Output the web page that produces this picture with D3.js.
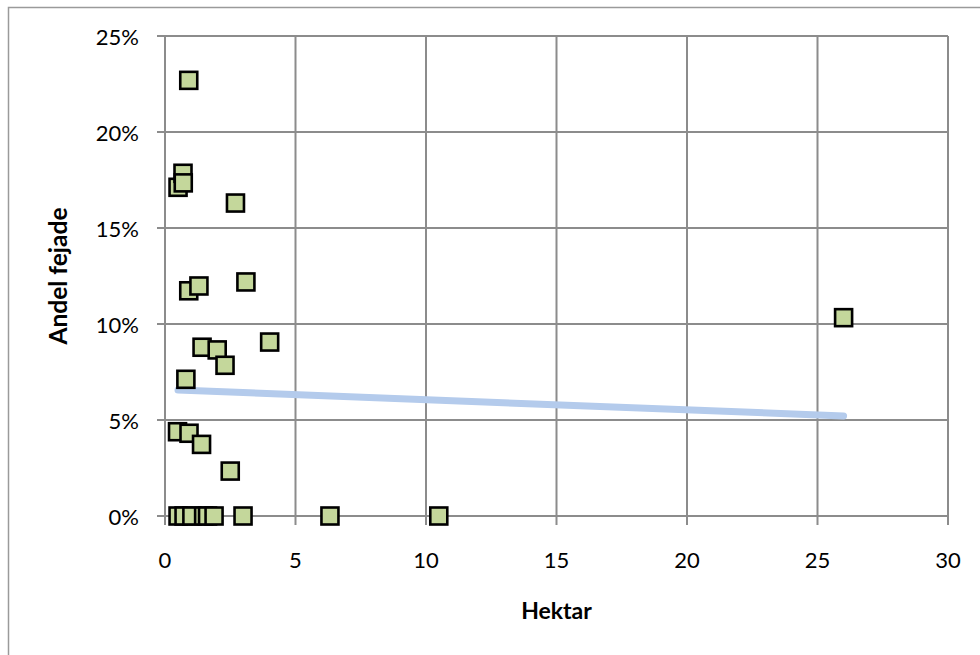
<!DOCTYPE html>
<html><head><meta charset="utf-8">
<script src="https://cdn.jsdelivr.net/npm/d3@7"></script>
<style>body{margin:0;background:#fff}svg{display:block}text{font-family:Lato,"Open Sans",sans-serif;fill:#000}</style>
</head><body><svg id="c" width="980" height="655"></svg>
<script>
const hektar = [0.50,0.69,0.70,0.91,2.70,0.91,1.30,3.10,1.42,2.00,2.30,4.01,0.80,0.48,0.92,1.40,2.50,26.0,
                0.50,0.73,1.03,1.48,1.63,1.88,2.99,6.32,10.49];
const andel  = [0.1712,0.1785,0.1735,0.2269,0.1630,0.1173,0.1198,0.1219,0.0879,0.0865,0.0785,0.0906,0.0712,0.0439,0.0431,0.0373,0.0234,0.1033,
                0,0,0,0,0,0,0,0,0];
const trendX = [0.5, 26.0];
const trendY = [0.0656, 0.0521];
const xTicks = [0,5,10,15,20,25,30];
const yTicks = [0,0.05,0.10,0.15,0.20,0.25];
const yTickLabels = ["0%","5%","10%","15%","20%","25%"];
const xTitle = "Hektar", yTitle = "Andel fejade";

const svg = d3.select("#c");
const L=165,R=948,T=36,B=516;
const x = d3.scaleLinear().domain([0,30]).range([L,R]);
const y = d3.scaleLinear().domain([0,0.25]).range([B,T]);

svg.append("rect").attr("x",8.5).attr("y",7.5).attr("width",1200).attr("height",1200)
  .attr("fill","#fff").attr("stroke","#9a9a9a").attr("stroke-width",1.5);

const grid="#8c8c8c";
svg.append("g").selectAll("line").data(yTicks).join("line")
  .attr("x1",L-8).attr("x2",R).attr("y1",d=>y(d)).attr("y2",d=>y(d))
  .attr("stroke",grid).attr("stroke-width",2);
svg.append("g").selectAll("line").data(xTicks).join("line")
  .attr("x1",d=>x(d)).attr("x2",d=>x(d)).attr("y1",T).attr("y2",B+9)
  .attr("stroke",grid).attr("stroke-width",2);

svg.append("g").selectAll("text").data(yTicks).join("text")
  .attr("x",139).attr("y",d=>y(d)+8.5).attr("text-anchor","end")
  .attr("font-size",22).text((d,i)=>yTickLabels[i]);
svg.append("g").selectAll("text").data(xTicks).join("text")
  .attr("x",d=>x(d)).attr("y",567.5).attr("text-anchor","middle")
  .attr("font-size",22).text(d=>d);

svg.append("text").attr("x",(L+R)/2).attr("y",619).attr("text-anchor","middle")
  .attr("font-size",23).attr("font-weight","bold").text(xTitle);
svg.append("text").attr("transform",`translate(67,${(T+B)/2}) rotate(-90)`)
  .attr("text-anchor","middle").attr("font-size",24.5).attr("font-weight","bold").text(yTitle);

svg.append("line").attr("x1",x(trendX[0])).attr("y1",y(trendY[0]))
  .attr("x2",x(trendX[1])).attr("y2",y(trendY[1]))
  .attr("stroke","#b4cbec").attr("stroke-width",7).attr("stroke-linecap","round");

const s=17;
svg.append("g").selectAll("rect").data(hektar.map((h,i)=>[h,andel[i]])).join("rect")
  .attr("x",d=>x(d[0])-s/2).attr("y",d=>y(d[1])-s/2).attr("width",s).attr("height",s)
  .attr("fill","#c4d79b").attr("stroke","#000").attr("stroke-width",2.6);
</script></body></html>
